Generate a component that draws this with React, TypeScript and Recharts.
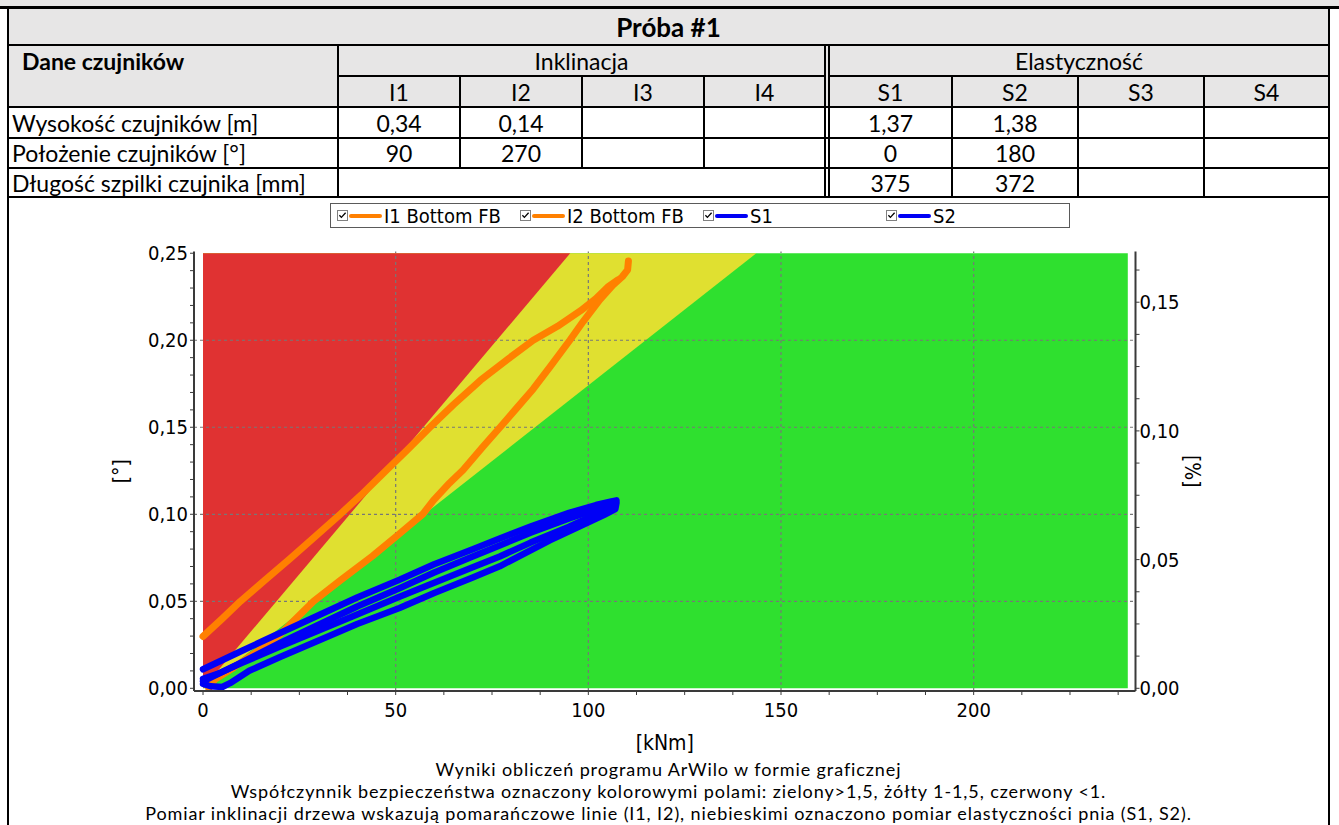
import React from 'react';
import {
  ComposedChart,
  Line,
  XAxis,
  YAxis,
  ReferenceArea,
  ReferenceLine,
  Legend,
} from 'recharts';

// ---------- sensor table ----------
const TITLE = 'Próba #1';
const HEADER_LABEL = 'Dane czujników';
const GROUP_LABELS = ['Inklinacja', 'Elastyczność'];
const INCLINATION_SENSORS = ['I1', 'I2', 'I3', 'I4'];
const ELASTICITY_SENSORS = ['S1', 'S2', 'S3', 'S4'];
const ROW_LABELS = [
  'Wysokość czujników [m]',
  'Położenie czujników [°]',
  'Długość szpilki czujnika [mm]',
];
const INCLINATION_HEIGHT = ['0,34', '0,14', '', ''];
const INCLINATION_POSITION = ['90', '270', '', ''];
const ELASTICITY_HEIGHT = ['1,37', '1,38', '', ''];
const ELASTICITY_POSITION = ['0', '180', '', ''];
const PIN_LENGTH = ['375', '372', '', ''];

const CAPTIONS = [
  'Wyniki obliczeń programu ArWilo w formie graficznej',
  'Współczynnik bezpieczeństwa oznaczony kolorowymi polami: zielony>1,5, żółty 1-1,5, czerwony <1.',
  'Pomiar inklinacji drzewa wskazują pomarańczowe linie (I1, I2), niebieskimi oznaczono pomiar elastyczności pnia (S1, S2).',
];

// ---------- chart values ----------
// moment [kNm] vs inclination [°]
const I1_BOTTOM = [
  { x: 0, y: 0.0298 }, { x: 5, y: 0.04 }, { x: 9.7, y: 0.05 }, { x: 16, y: 0.062 },
  { x: 22.6, y: 0.0745 }, { x: 29, y: 0.087 }, { x: 35.6, y: 0.1 }, { x: 41, y: 0.111 },
  { x: 47, y: 0.124 }, { x: 53, y: 0.137 }, { x: 58.9, y: 0.15 }, { x: 65, y: 0.163 },
  { x: 72, y: 0.177 }, { x: 79, y: 0.189 }, { x: 85.7, y: 0.2 }, { x: 92, y: 0.208 },
  { x: 98, y: 0.217 }, { x: 102, y: 0.224 }, { x: 105, y: 0.2305 }, { x: 107.5, y: 0.2345 },
];
const I2_BOTTOM = [
  { x: 1.5, y: 0 }, { x: 3, y: 0.005 }, { x: 8, y: 0.012 }, { x: 14, y: 0.021 },
  { x: 20, y: 0.031 }, { x: 28.7, y: 0.05 }, { x: 35.6, y: 0.062 }, { x: 44, y: 0.076 },
  { x: 51.1, y: 0.089 }, { x: 57, y: 0.1 }, { x: 59.8, y: 0.108 }, { x: 64, y: 0.118 },
  { x: 67.5, y: 0.1255 }, { x: 72.7, y: 0.139 }, { x: 77.1, y: 0.15 }, { x: 81.4, y: 0.161 },
  { x: 85.7, y: 0.172 }, { x: 90.1, y: 0.1849 }, { x: 95.2, y: 0.2 }, { x: 98.7, y: 0.2109 },
  { x: 103, y: 0.2233 }, { x: 106.3, y: 0.2315 }, { x: 108.8, y: 0.2365 }, { x: 110.2, y: 0.2405 },
  { x: 110.4, y: 0.2455 },
];
// moment [kNm] vs strain [%]
const S1 = [
  { x: 0, y: 0.0074 }, { x: 10, y: 0.0145 }, { x: 20, y: 0.0215 }, { x: 30, y: 0.0284 },
  { x: 40, y: 0.0353 }, { x: 51, y: 0.0422 }, { x: 60, y: 0.0482 }, { x: 70, y: 0.054 },
  { x: 77, y: 0.0582 }, { x: 85, y: 0.0628 }, { x: 95, y: 0.0682 }, { x: 102, y: 0.0712 },
  { x: 106, y: 0.0726 }, { x: 107.3, y: 0.073 }, { x: 106.8, y: 0.071 }, { x: 103, y: 0.0683 },
  { x: 95, y: 0.0628 }, { x: 85, y: 0.0566 }, { x: 77, y: 0.0512 }, { x: 70, y: 0.047 },
  { x: 60, y: 0.041 }, { x: 51, y: 0.0356 }, { x: 40, y: 0.0287 }, { x: 30, y: 0.0225 },
  { x: 20, y: 0.0162 }, { x: 10, y: 0.0098 }, { x: 4, y: 0.0057 }, { x: 0, y: 0.0037 },
];
const S2 = [
  { x: 0, y: 0.0027 }, { x: 5, y: 0.0064 }, { x: 10, y: 0.0101 }, { x: 20, y: 0.0176 },
  { x: 30, y: 0.0247 }, { x: 40, y: 0.0318 }, { x: 51, y: 0.0389 }, { x: 60, y: 0.045 },
  { x: 70, y: 0.0512 }, { x: 77, y: 0.0555 }, { x: 85, y: 0.0604 }, { x: 95, y: 0.066 },
  { x: 102, y: 0.0695 }, { x: 106, y: 0.0713 }, { x: 107.3, y: 0.072 }, { x: 107, y: 0.0696 },
  { x: 104, y: 0.0673 }, { x: 100, y: 0.0645 }, { x: 90, y: 0.0575 }, { x: 77, y: 0.0474 },
  { x: 70, y: 0.043 }, { x: 60, y: 0.037 }, { x: 51, y: 0.0312 }, { x: 40, y: 0.025 },
  { x: 30, y: 0.0186 }, { x: 20, y: 0.0122 }, { x: 12, y: 0.0068 }, { x: 7, y: 0.002 },
  { x: 5, y: 0.0005 }, { x: 2, y: 0.0008 }, { x: 0, y: 0.0017 },
];

// safety zones: moment at which each zone reaches the top of the field (0,25°)
const FIELD_TOP = 0.25;
const FIELD_RIGHT = 240;
const YELLOW_EDGE = 143.6; // factor 1,5
const RED_EDGE = 95.3; // factor 1

const X_DOMAIN = [-2.34, 242];
const Y_LEFT_DOMAIN = [-0.00155, 0.251];
const Y_RIGHT_DOMAIN = [-0.00105, 0.1697];
const X_MAJOR = [0, 50, 100, 150, 200];
const Y_LEFT_MAJOR = [0, 0.05, 0.1, 0.15, 0.2, 0.25];
const Y_RIGHT_MAJOR = [0, 0.05, 0.1, 0.15];
const X_GRID = [50, 100, 150, 200];
const Y_GRID = [0.05, 0.1, 0.15, 0.2];

const steps = (from: number, to: number, step: number) => {
  const out: number[] = [];
  for (let i = 0; from + i * step <= to + 1e-9; i++) out.push(+(from + i * step).toFixed(6));
  return out;
};
const X_TICKS = steps(0, 237.5, 12.5);
const Y_LEFT_TICKS = steps(0, 0.25, 0.01);
const Y_RIGHT_TICKS = steps(0, 0.1625, 0.0125);

// ---------- styles ----------
const CHART_FONT = "'DejaVu Sans Condensed', 'DejaVu Sans', sans-serif";
const DOC_FONT = "Lato, 'Open Sans', sans-serif";
const AXIS_COLOR = '#3a3a3a';
const GRID_COLOR = '#777777';
const ZONE_COLORS = { green: '#2FE02F', yellow: '#E0E030', red: '#E03232' };
const ORANGE = '#FF8000';
const BLUE = '#0000F5';
const HEADER_BG = '#E7E6E6';

const SERIES = [
  { name: 'I1 Bottom FB', data: I1_BOTTOM, axis: 'left', color: ORANGE, width: 7 },
  { name: 'I2 Bottom FB', data: I2_BOTTOM, axis: 'left', color: ORANGE, width: 7 },
  { name: 'S1', data: S1, axis: 'right', color: BLUE, width: 6.5 },
  { name: 'S2', data: S2, axis: 'right', color: BLUE, width: 6.5 },
];

const fmt = (v: number) => v.toFixed(2).replace('.', ',');
const fmtInt = (v: number) => String(Math.round(v));

const makeTick = (majors: number[], format: (v: number) => string) => (props: any) => {
  const { x, y, payload, textAnchor, verticalAnchor } = props;
  const v = payload.value;
  if (!majors.some((m) => Math.abs(m - v) < 1e-9)) return <g />;
  const dy = verticalAnchor === 'start' ? '0.71em' : verticalAnchor === 'end' ? '0' : '0.355em';
  return (
    <text x={x} y={y} dy={dy} textAnchor={textAnchor} fill="#000" fontSize={20} fontFamily={CHART_FONT}>
      {format(v)}
    </text>
  );
};

const triangle = (fill: string) => (props: any) => {
  const { x, y, width, height } = props;
  return <polygon points={`${x},${y + height} ${x},${y} ${x + width},${y}`} fill={fill} />;
};

const CheckBox = () => (
  <svg width={11} height={11} style={{ display: 'block' }}>
    <rect x={0.5} y={0.5} width={10} height={10} fill="#fff" stroke="#808080" />
    <path d="M2.4 5.2 L4.4 7.4 L8.6 2.8" fill="none" stroke="#000" strokeWidth={1.3} />
  </svg>
);

const renderLegend = () => (
  <div
    style={{
      boxSizing: 'border-box',
      width: 740,
      height: 25,
      border: '1px solid #5a5a5a',
      background: '#fff',
      display: 'flex',
      alignItems: 'center',
      paddingLeft: 6,
    }}
  >
    {SERIES.map((s) => (
      <div key={s.name} style={{ width: 184, display: 'flex', alignItems: 'center' }}>
        <CheckBox />
        <div style={{ width: 33, height: 4, background: s.color, borderRadius: 2, marginLeft: 1, marginRight: 2 }} />
        <span style={{ fontFamily: CHART_FONT, fontSize: 20, color: '#000', lineHeight: '22px' }}>{s.name}</span>
      </div>
    ))}
  </div>
);

const SensorChart = () => (
  <ComposedChart width={1321} height={597} margin={{ top: 53.5, right: 80.5, bottom: 0, left: 40 }}>
    <XAxis
      xAxisId="x"
      type="number"
      dataKey="x"
      domain={X_DOMAIN}
      allowDataOverflow
      ticks={X_TICKS}
      interval={0}
      tick={makeTick(X_MAJOR, fmtInt)}
      tickSize={4}
      tickMargin={8}
      height={104}
      axisLine={{ stroke: AXIS_COLOR, strokeWidth: 2 }}
      tickLine={{ stroke: AXIS_COLOR }}
      label={{ value: '[kNm]', position: 'center', fontSize: 21, fontFamily: CHART_FONT, fill: '#000' }}
    />
    <XAxis
      xAxisId="top"
      orientation="top"
      type="number"
      domain={X_DOMAIN}
      allowDataOverflow
      height={0}
      tick={false}
      tickLine={false}
      axisLine={{ stroke: AXIS_COLOR, strokeWidth: 2 }}
    />
    <YAxis
      yAxisId="left"
      type="number"
      domain={Y_LEFT_DOMAIN}
      allowDataOverflow
      ticks={Y_LEFT_TICKS}
      interval={0}
      width={146}
      tick={makeTick(Y_LEFT_MAJOR, fmt)}
      tickSize={4}
      tickMargin={2}
      axisLine={{ stroke: AXIS_COLOR, strokeWidth: 2 }}
      tickLine={{ stroke: AXIS_COLOR }}
      label={{ value: '[°]', angle: -90, position: 'center', fontSize: 21, fontFamily: CHART_FONT, fill: '#000' }}
    />
    <YAxis
      yAxisId="right"
      orientation="right"
      type="number"
      domain={Y_RIGHT_DOMAIN}
      allowDataOverflow
      ticks={Y_RIGHT_TICKS}
      interval={0}
      width={113}
      tick={makeTick(Y_RIGHT_MAJOR, fmt)}
      tickSize={4}
      tickMargin={0}
      axisLine={{ stroke: AXIS_COLOR, strokeWidth: 2 }}
      tickLine={{ stroke: AXIS_COLOR }}
      label={{ value: '[%]', angle: 90, position: 'center', fontSize: 21, fontFamily: CHART_FONT, fill: '#000' }}
    />

    <ReferenceArea xAxisId="x" yAxisId="left" x1={0} x2={FIELD_RIGHT} y1={0} y2={FIELD_TOP}
      fill={ZONE_COLORS.green} fillOpacity={1} stroke="none" />
    <ReferenceArea xAxisId="x" yAxisId="left" x1={0} x2={YELLOW_EDGE} y1={0} y2={FIELD_TOP}
      shape={triangle(ZONE_COLORS.yellow)} />
    <ReferenceArea xAxisId="x" yAxisId="left" x1={0} x2={RED_EDGE} y1={0} y2={FIELD_TOP}
      shape={triangle(ZONE_COLORS.red)} />

    {X_GRID.map((v) => (
      <ReferenceLine key={`gx${v}`} xAxisId="x" yAxisId="left" x={v} stroke={GRID_COLOR} strokeWidth={1.2} strokeDasharray="3 3" />
    ))}
    {Y_GRID.map((v) => (
      <ReferenceLine key={`gy${v}`} xAxisId="x" yAxisId="left" y={v} stroke={GRID_COLOR} strokeWidth={1.2} strokeDasharray="3 3" />
    ))}

    {SERIES.map((s) => (
      <Line
        key={s.name}
        name={s.name}
        data={s.data}
        dataKey="y"
        xAxisId="x"
        yAxisId={s.axis}
        type="linear"
        stroke={s.color}
        strokeWidth={s.width}
        strokeLinecap="round"
        strokeLinejoin="round"
        dot={false}
        activeDot={false}
        isAnimationActive={false}
      />
    ))}

    <Legend
      layout="horizontal"
      verticalAlign="middle"
      align="center"
      wrapperStyle={{ left: 322, top: 5, width: 740, height: 25 }}
      content={renderLegend}
    />
  </ComposedChart>
);

// ---------- table helpers ----------
const COL_I = [338, 460, 582, 704, 825];
const COL_S = [829, 952, 1078, 1204, 1329];
const LEFT = 8;
const RIGHT = 1329;
const ROWS = [8, 45, 76, 107, 138, 168, 197];

const HLine = ({ x0, x1, y, t = 2 }: any) => (
  <div style={{ position: 'absolute', left: x0, top: y - t / 2, width: x1 - x0, height: t, background: '#000' }} />
);
const VLine = ({ x, y0, y1, t = 2 }: any) => (
  <div style={{ position: 'absolute', left: x - t / 2, top: y0, width: t, height: y1 - y0, background: '#000' }} />
);

const Cell = ({ x0, x1, y0, y1, text, align = 'center', bold = false, padLeft = 0, size = 23 }: any) => (
  <div
    style={{
      position: 'absolute',
      left: x0,
      top: y0,
      width: x1 - x0,
      height: y1 - y0,
      display: 'flex',
      alignItems: 'center',
      justifyContent: align === 'center' ? 'center' : 'flex-start',
      paddingLeft: padLeft,
      boxSizing: 'border-box',
      fontFamily: DOC_FONT,
      fontSize: size,
      fontWeight: bold ? 700 : 400,
      color: '#000',
      whiteSpace: 'nowrap',
    }}
  >
    {text}
  </div>
);

const SensorTable = () => {
  const valueRows = [
    { i: INCLINATION_HEIGHT, s: ELASTICITY_HEIGHT },
    { i: INCLINATION_POSITION, s: ELASTICITY_POSITION },
    { i: null, s: PIN_LENGTH },
  ];
  return (
    <>
      <div style={{ position: 'absolute', left: 0, top: 0, width: 1339, height: 6, background: HEADER_BG }} />
      <div style={{ position: 'absolute', left: LEFT, top: ROWS[0], width: RIGHT - LEFT, height: ROWS[3] - ROWS[0], background: HEADER_BG }} />

      <Cell x0={LEFT} x1={RIGHT} y0={ROWS[0]} y1={ROWS[1]} text={TITLE} bold size={26} />
      <Cell x0={LEFT} x1={COL_I[0]} y0={ROWS[1]} y1={ROWS[2]} text={HEADER_LABEL} bold align="left" padLeft={14} />
      <Cell x0={COL_I[0]} x1={COL_I[4]} y0={ROWS[1]} y1={ROWS[2]} text={GROUP_LABELS[0]} />
      <Cell x0={COL_S[0]} x1={COL_S[4]} y0={ROWS[1]} y1={ROWS[2]} text={GROUP_LABELS[1]} />
      {INCLINATION_SENSORS.map((s, k) => (
        <Cell key={s} x0={COL_I[k]} x1={COL_I[k + 1]} y0={ROWS[2]} y1={ROWS[3]} text={s} />
      ))}
      {ELASTICITY_SENSORS.map((s, k) => (
        <Cell key={s} x0={COL_S[k]} x1={COL_S[k + 1]} y0={ROWS[2]} y1={ROWS[3]} text={s} />
      ))}
      {ROW_LABELS.map((label, r) => (
        <React.Fragment key={label}>
          <Cell x0={LEFT} x1={COL_I[0]} y0={ROWS[3 + r]} y1={ROWS[4 + r]} text={label} align="left" padLeft={4} />
          {valueRows[r].i &&
            valueRows[r].i!.map((v, k) => (
              <Cell key={`i${k}`} x0={COL_I[k]} x1={COL_I[k + 1]} y0={ROWS[3 + r]} y1={ROWS[4 + r]} text={v} />
            ))}
          {valueRows[r].s.map((v, k) => (
            <Cell key={`s${k}`} x0={COL_S[k]} x1={COL_S[k + 1]} y0={ROWS[3 + r]} y1={ROWS[4 + r]} text={v} />
          ))}
        </React.Fragment>
      ))}

      <HLine x0={0} x1={1339} y={7.5} t={3} />
      <HLine x0={LEFT} x1={RIGHT} y={ROWS[1]} />
      <HLine x0={COL_I[0]} x1={COL_I[4]} y={ROWS[2]} />
      <HLine x0={COL_S[0]} x1={COL_S[4]} y={ROWS[2]} />
      {ROWS.slice(3).map((y) => (
        <HLine key={y} x0={LEFT} x1={RIGHT} y={y} />
      ))}
      <VLine x={LEFT} y0={6} y1={825} />
      <VLine x={RIGHT} y0={6} y1={825} />
      <VLine x={COL_I[0]} y0={ROWS[1]} y1={ROWS[6]} />
      {COL_I.slice(1, 4).map((x) => (
        <VLine key={x} x={x} y0={ROWS[2]} y1={ROWS[5]} />
      ))}
      <VLine x={COL_I[4]} y0={ROWS[1]} y1={ROWS[6]} t={1.5} />
      <VLine x={COL_S[0]} y0={ROWS[1]} y1={ROWS[6]} t={1.5} />
      {COL_S.slice(1, 4).map((x) => (
        <VLine key={x} x={x} y0={ROWS[2]} y1={ROWS[6]} />
      ))}
    </>
  );
};

const CAPTION_TOPS = [759, 781, 803];

export default function App() {
  return (
    <div style={{ position: 'absolute', left: 0, top: 0, width: 1339, height: 825, background: '#fff', overflow: 'hidden' }}>
      <SensorTable />
      <div style={{ position: 'absolute', left: LEFT, top: 198 }}>
        <SensorChart />
      </div>
      {CAPTIONS.map((c, k) => (
        <div
          key={k}
          style={{
            position: 'absolute',
            left: LEFT,
            width: RIGHT - LEFT,
            top: CAPTION_TOPS[k],
            textAlign: 'center',
            fontFamily: DOC_FONT,
            fontSize: 18,
            letterSpacing: 0.9,
            lineHeight: '21.6px',
            height: 21.6,
            color: '#000',
            whiteSpace: 'nowrap',
          }}
        >
          {c}
        </div>
      ))}
    </div>
  );
}
